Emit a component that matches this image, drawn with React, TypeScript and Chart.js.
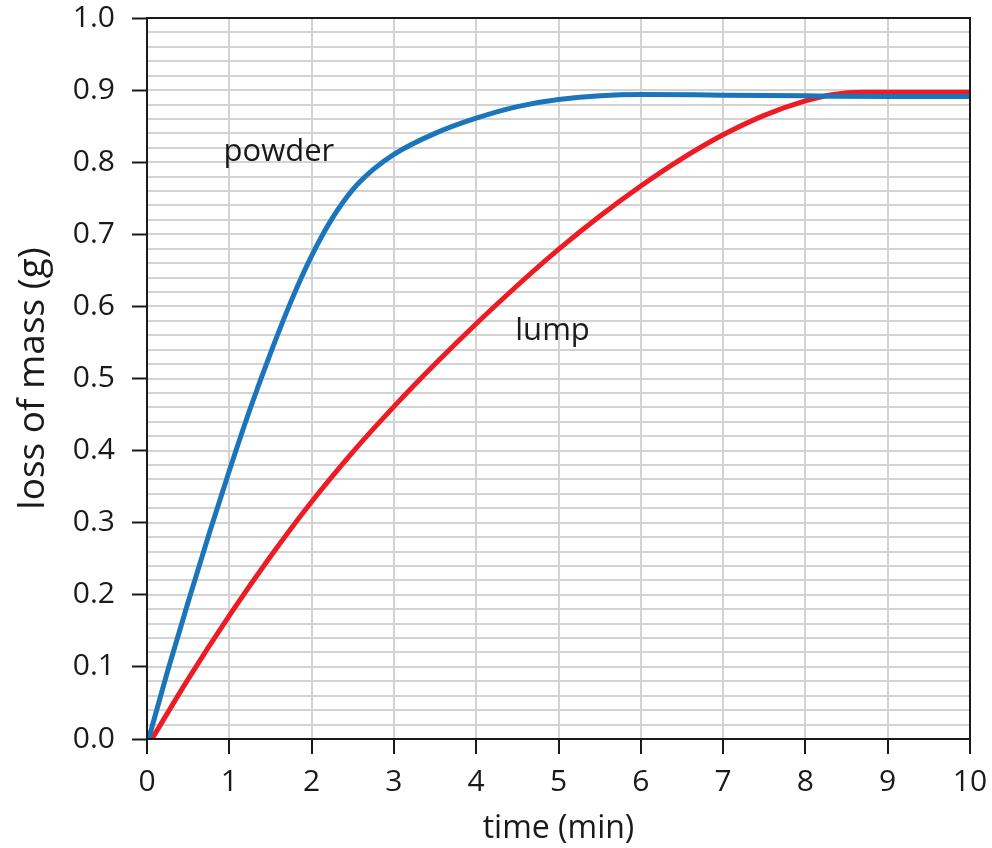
import React, { useEffect, useRef } from "react";
import { Chart, registerables } from "chart.js";

Chart.register(...registerables);

const powderX = [0.02, 0.25, 0.5, 0.75, 1, 1.25, 1.5, 1.75, 2, 2.25, 2.5, 2.75, 3, 3.5, 4, 4.5, 5, 6, 7, 8, 9, 10];
const powderY = [0, 0.094, 0.19, 0.283, 0.372, 0.457, 0.535, 0.607, 0.67, 0.722, 0.762, 0.79, 0.811, 0.84, 0.861, 0.877, 0.887, 0.894, 0.893, 0.892, 0.891, 0.891];

const lumpX = [0.06, 0.5, 1, 1.5, 2, 2.5, 3, 3.5, 4, 4.5, 5, 5.5, 6, 6.5, 7, 7.5, 8, 8.34, 8.7, 10];
const lumpY = [0, 0.083, 0.171, 0.253, 0.329, 0.398, 0.461, 0.52, 0.576, 0.629, 0.679, 0.725, 0.767, 0.805, 0.838, 0.865, 0.885, 0.894, 0.897, 0.897];

const seriesNames = ["powder", "lump"];
const labelPos = [
  { x: 0.93, y: 0.801 },
  { x: 4.475, y: 0.554 },
];
const xTitle = "time (min)";
const yTitle = "loss of mass (g)";

const FONT = "'Open Sans', 'Noto Sans', sans-serif";
const INK = "#1a1a1a";

export default function App() {
  const ref = useRef<HTMLCanvasElement | null>(null);
  useEffect(() => {
    if (!ref.current) return;
    const toPts = (xs: number[], ys: number[]) => xs.map((x, i) => ({ x, y: ys[i] }));

    const framePlugin = {
      id: "frameAndLabels",
      afterDatasetsDraw(chart: any) {
        const { ctx, chartArea, scales } = chart;
        ctx.save();
        ctx.strokeStyle = INK;
        ctx.lineWidth = 2;
        ctx.strokeRect(chartArea.left, chartArea.top, chartArea.right - chartArea.left, chartArea.bottom - chartArea.top);
        ctx.fillStyle = INK;
        ctx.font = `31px ${FONT}`;
        ctx.textAlign = "left";
        ctx.textBaseline = "alphabetic";
        seriesNames.forEach((n, i) => {
          ctx.fillText(n, scales.x.getPixelForValue(labelPos[i].x), scales.y.getPixelForValue(labelPos[i].y));
        });
        ctx.restore();
      },
    };

    const chart = new Chart(ref.current, {
      type: "line",
      data: {
        datasets: [
          {
            label: seriesNames[0],
            data: toPts(powderX, powderY),
            borderColor: "#1b75bb",
            borderWidth: 5,
            pointRadius: 0,
            cubicInterpolationMode: "monotone",
            yAxisID: "y",
          },
          {
            label: seriesNames[1],
            data: toPts(lumpX, lumpY),
            borderColor: "#ed1c24",
            borderWidth: 5,
            pointRadius: 0,
            cubicInterpolationMode: "monotone",
            yAxisID: "y",
          },
        ],
      },
      options: {
        animation: false,
        responsive: false,
        layout: { padding: { left: 0, top: 18, right: 22, bottom: 0 } },
        plugins: { legend: { display: false }, tooltip: { enabled: false } },
        scales: {
          x: {
            type: "linear",
            min: 0,
            max: 10,
            ticks: { stepSize: 1, color: INK, font: { family: FONT, size: 30 }, padding: 10 },
            grid: { color: "#d3d3d3", lineWidth: 2, tickColor: INK, tickLength: 15, tickWidth: 2 },
            border: { color: INK, width: 2 },
            title: { display: true, text: xTitle, color: INK, font: { family: FONT, size: 32 }, padding: { top: 4, bottom: 0 } },
            afterFit: (s: any) => { s.height = 109; s.paddingLeft = 0; s.paddingRight = 0; },
          },
          y: {
            type: "linear",
            position: "left",
            min: 0,
            max: 1,
            ticks: { stepSize: 0.1, color: INK, font: { family: FONT, size: 30 }, padding: 17, callback: (v: any) => Number(v).toFixed(1) },
            grid: { drawOnChartArea: false, tickColor: INK, tickLength: 15, tickWidth: 2 },
            border: { color: INK, width: 2 },
            title: { display: true, text: yTitle, color: INK, font: { family: FONT, size: 37 }, padding: { top: 11, bottom: 4 } },
            afterFit: (s: any) => { s.width = 147; s.paddingTop = 0; s.paddingBottom = 0; },
          },
          yGrid: {
            type: "linear",
            position: "right",
            min: 0,
            max: 1,
            ticks: { display: false, stepSize: 0.02 },
            grid: { color: "#d3d3d3", lineWidth: 2, drawTicks: false },
            border: { display: false },
            afterFit: (s: any) => { s.width = 0; s.paddingTop = 0; s.paddingBottom = 0; },
          },
        },
      } as any,
      plugins: [framePlugin],
    });
    return () => chart.destroy();
  }, []);

  return (
    <div style={{ position: "absolute", left: 0, top: 0, width: 992, height: 848 }}>
      <canvas ref={ref} width={992} height={848} style={{ width: 992, height: 848 }} />
    </div>
  );
}
